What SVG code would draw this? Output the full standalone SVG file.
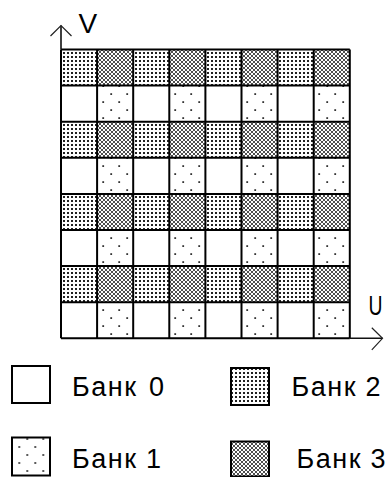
<svg xmlns="http://www.w3.org/2000/svg" width="392" height="477" viewBox="0 0 392 477">
<style>
  .ln{stroke:#000;stroke-width:2;fill:none}
  .ax{stroke:#111;stroke-width:1.6;fill:none}
  .ah{stroke:#222;stroke-width:1.2;fill:none}
  .bx{stroke:#000;stroke-width:2}
  .t{font-family:"Liberation Sans",Arial,sans-serif;font-size:27px;fill:#000;letter-spacing:1.5px}
  .lab{font-family:"Liberation Sans",Arial,sans-serif;font-size:28px;fill:#000}
</style>
<defs>
  <pattern id="b1" patternUnits="userSpaceOnUse" x="99" y="90" width="16" height="16">
    <rect x="3.3" y="11.2" width="1.8" height="1.8" fill="#333"/>
    <rect x="11.3" y="3.2" width="1.8" height="1.8" fill="#333"/>
  </pattern>
  <pattern id="b1L" patternUnits="userSpaceOnUse" x="15.3" y="443" width="16" height="16">
    <rect x="3.1" y="3.1" width="1.8" height="1.8" fill="#333"/>
    <rect x="11.1" y="11.1" width="1.8" height="1.8" fill="#333"/>
  </pattern>
  <pattern id="b2" patternUnits="userSpaceOnUse" x="63" y="52" width="4" height="4">
    <rect width="4" height="4" fill="#fff"/>
    <rect x="0" y="0" width="2" height="2" fill="#222"/>
  </pattern>
  <pattern id="b3" patternUnits="userSpaceOnUse" x="0" y="0" width="4" height="4">
    <rect width="4" height="4" fill="#fff"/>
    <path d="M0 0L4 4M4 0L0 4" stroke="#222" stroke-width="0.8"/>
  </pattern>
</defs>

<g id="grid">
  <g id="rows-even" fill="url(#b2)">
    <rect x="61" y="49.5" width="288.8" height="36.1"/>
    <rect x="61" y="121.7" width="288.8" height="36.1"/>
    <rect x="61" y="193.9" width="288.8" height="36.1"/>
    <rect x="61" y="266.1" width="288.8" height="36.1"/>
  </g>
  <g id="rows-odd" fill="#fff">
    <rect x="61" y="85.6" width="288.8" height="36.1"/>
    <rect x="61" y="157.8" width="288.8" height="36.1"/>
    <rect x="61" y="230" width="288.8" height="36.1"/>
    <rect x="61" y="302.2" width="288.8" height="36.1"/>
  </g>
  <g id="bank3-cells" fill="url(#b3)">
    <rect x="97.1" y="49.5" width="36.1" height="36.1"/><rect x="169.3" y="49.5" width="36.1" height="36.1"/><rect x="241.5" y="49.5" width="36.1" height="36.1"/><rect x="313.7" y="49.5" width="36.1" height="36.1"/>
    <rect x="97.1" y="121.7" width="36.1" height="36.1"/><rect x="169.3" y="121.7" width="36.1" height="36.1"/><rect x="241.5" y="121.7" width="36.1" height="36.1"/><rect x="313.7" y="121.7" width="36.1" height="36.1"/>
    <rect x="97.1" y="193.9" width="36.1" height="36.1"/><rect x="169.3" y="193.9" width="36.1" height="36.1"/><rect x="241.5" y="193.9" width="36.1" height="36.1"/><rect x="313.7" y="193.9" width="36.1" height="36.1"/>
    <rect x="97.1" y="266.1" width="36.1" height="36.1"/><rect x="169.3" y="266.1" width="36.1" height="36.1"/><rect x="241.5" y="266.1" width="36.1" height="36.1"/><rect x="313.7" y="266.1" width="36.1" height="36.1"/>
  </g>
  <g id="bank1-cells" fill="url(#b1)">
    <rect x="97.1" y="85.6" width="36.1" height="36.1"/><rect x="169.3" y="85.6" width="36.1" height="36.1"/><rect x="241.5" y="85.6" width="36.1" height="36.1"/><rect x="313.7" y="85.6" width="36.1" height="36.1"/>
    <rect x="97.1" y="157.8" width="36.1" height="36.1"/><rect x="169.3" y="157.8" width="36.1" height="36.1"/><rect x="241.5" y="157.8" width="36.1" height="36.1"/><rect x="313.7" y="157.8" width="36.1" height="36.1"/>
    <rect x="97.1" y="230" width="36.1" height="36.1"/><rect x="169.3" y="230" width="36.1" height="36.1"/><rect x="241.5" y="230" width="36.1" height="36.1"/><rect x="313.7" y="230" width="36.1" height="36.1"/>
    <rect x="97.1" y="302.2" width="36.1" height="36.1"/><rect x="169.3" y="302.2" width="36.1" height="36.1"/><rect x="241.5" y="302.2" width="36.1" height="36.1"/><rect x="313.7" y="302.2" width="36.1" height="36.1"/>
  </g>
  <path id="gridlines" class="ln" d="M61 49.5V338.3M97.1 49.5V338.3M133.2 49.5V338.3M169.3 49.5V338.3M205.4 49.5V338.3M241.5 49.5V338.3M277.6 49.5V338.3M313.7 49.5V338.3M349.8 49.5V338.3M61 49.5H349.8M61 85.6H349.8M61 121.7H349.8M61 157.8H349.8M61 193.9H349.8M61 230H349.8M61 266.1H349.8M61 302.2H349.8M61 338.3H349.8"/>
</g>

<g id="axes">
  <path class="ax" d="M61 25.5V49.5M349.8 338.3H382.5"/>
  <path class="ah" d="M50.5 36L61 25.5L71.5 36"/>
  <path class="ah" d="M371.8 327.8L382.5 338.3L371.8 349.8"/>
  <text class="lab" x="78.5" y="33">V</text>
  <text class="lab" x="368.5" y="315" textLength="14" lengthAdjust="spacingAndGlyphs">U</text>
</g>

<g id="legend">
  <g id="leg-bank0">
    <rect class="bx" x="12" y="366" width="38" height="37" fill="#fff"/>
    <text class="t" x="72" y="396">Банк<tspan x="149">0</tspan></text>
  </g>
  <g id="leg-bank1">
    <rect class="bx" x="12" y="437.5" width="38" height="38" fill="url(#b1L)"/>
    <text class="t" x="72" y="468">Банк<tspan x="146">1</tspan></text>
  </g>
  <g id="leg-bank2">
    <rect class="bx" x="231" y="368" width="38" height="37" fill="url(#b2)"/>
    <text class="t" x="291.5" y="396">Банк<tspan x="365.5">2</tspan></text>
  </g>
  <g id="leg-bank3">
    <rect class="bx" x="231" y="441.5" width="38" height="35" fill="url(#b3)"/>
    <text class="t" x="296.5" y="468">Банк<tspan x="370.5">3</tspan></text>
  </g>
</g>
</svg>
